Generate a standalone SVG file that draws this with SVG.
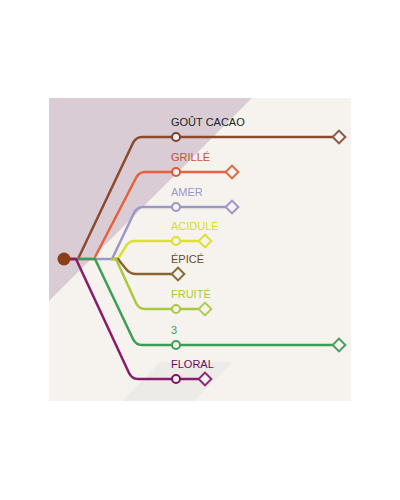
<svg xmlns="http://www.w3.org/2000/svg" width="400" height="500" viewBox="0 0 400 500">
<style>
.ln{fill:none;stroke-width:2.5;stroke-linejoin:round;stroke-linecap:round}
.st{fill:#f6f3ee;stroke-width:2}
text{font-family:"Liberation Sans",Arial,sans-serif;font-size:11px}
</style>
<rect x="0" y="0" width="400" height="500" fill="#ffffff"/>
<rect x="49" y="98" width="302" height="303" fill="#f6f3ee"/>
<polygon points="49,98 252,98 49,301" fill="#d9ccd5"/>
<polygon points="160,362 232,362 194,401 122,401" fill="#ecebe8"/>
<g id="connectors">
<path class="ln" stroke="#8b4a2b" d="M64,259 H78 L133,143 Q136,137 142,137 H334"/>
<path class="ln" stroke="#e8603c" d="M64,259 H94 L136,178 Q139,172 145,172 H226"/>
<path class="ln" stroke="#9d96c8" d="M94,259 H112 L134,213 Q137,207 143,207 H226"/>
<path class="ln" stroke="#dde030" d="M112,259 H118 L126,246 Q129,241 135,241 H199"/>
<path class="ln" stroke="#8b6430" d="M112,259 H118 L126,269 Q130,274 136,274 H172"/>
<path class="ln" stroke="#a9c93f" d="M112,259 H116 L136,303 Q139,309 145,309 H199"/>
<path class="ln" stroke="#3b9e55" d="M78,259 H95 L133,339 Q136,345 142,345 H333"/>
<path class="ln" stroke="#8a1a6a" d="M64,259 H76 L129,373 Q132,379 138,379 H199"/>
</g>
<g id="origin"><circle cx="64" cy="259" r="6.5" fill="#8b3e1a"/></g>
<g id="n-cacao">
<circle class="st" cx="176" cy="137" r="4" stroke="#7a4030"/>
<rect class="st" x="334.5" y="132.5" width="9" height="9" transform="rotate(45 339 137)" stroke="#8b5a45"/>
<text x="171" y="126" fill="#222222">GOÛT CACAO</text>
</g>
<g id="n-grille">
<circle class="st" cx="176" cy="172" r="4" stroke="#d85a3a"/>
<rect class="st" x="227.5" y="167.5" width="9" height="9" transform="rotate(45 232 172)" stroke="#d86a45"/>
<text x="171" y="161" fill="#c8502f">GRILLÉ</text>
</g>
<g id="n-amer">
<circle class="st" cx="176" cy="207" r="4" stroke="#9d96c8"/>
<rect class="st" x="227.5" y="202.5" width="9" height="9" transform="rotate(45 232 207)" stroke="#9d96c8"/>
<text x="171" y="196" fill="#9d96c8">AMER</text>
</g>
<g id="n-acidule">
<circle class="st" cx="176" cy="241" r="4" stroke="#dde030"/>
<rect class="st" x="200.5" y="236.5" width="9" height="9" transform="rotate(45 205 241)" stroke="#dde030"/>
<text x="171" y="230" fill="#d8dc2a">ACIDULÉ</text>
</g>
<g id="n-epice">
<rect class="st" x="173.5" y="269.5" width="9" height="9" transform="rotate(45 178 274)" stroke="#8b6a35"/>
<text x="171" y="263" fill="#6b4a20">ÉPICÉ</text>
</g>
<g id="n-fruite">
<circle class="st" cx="176" cy="309" r="4" stroke="#a9c93f"/>
<rect class="st" x="200.5" y="304.5" width="9" height="9" transform="rotate(45 205 309)" stroke="#b0cc55"/>
<text x="171" y="298" fill="#a9c93f">FRUITÉ</text>
</g>
<g id="n-3">
<circle class="st" cx="176" cy="345" r="4" stroke="#3b9e55"/>
<rect class="st" x="334.5" y="340.5" width="9" height="9" transform="rotate(45 339 345)" stroke="#4a9e60"/>
<text x="171" y="334" fill="#3b9e55">3</text>
</g>
<g id="n-floral">
<circle class="st" cx="176" cy="379" r="4" stroke="#7a1560"/>
<rect class="st" x="200.5" y="374.5" width="9" height="9" transform="rotate(45 205 379)" stroke="#8a2a75"/>
<text x="171" y="368" fill="#6a0a5a">FLORAL</text>
</g>
</svg>
